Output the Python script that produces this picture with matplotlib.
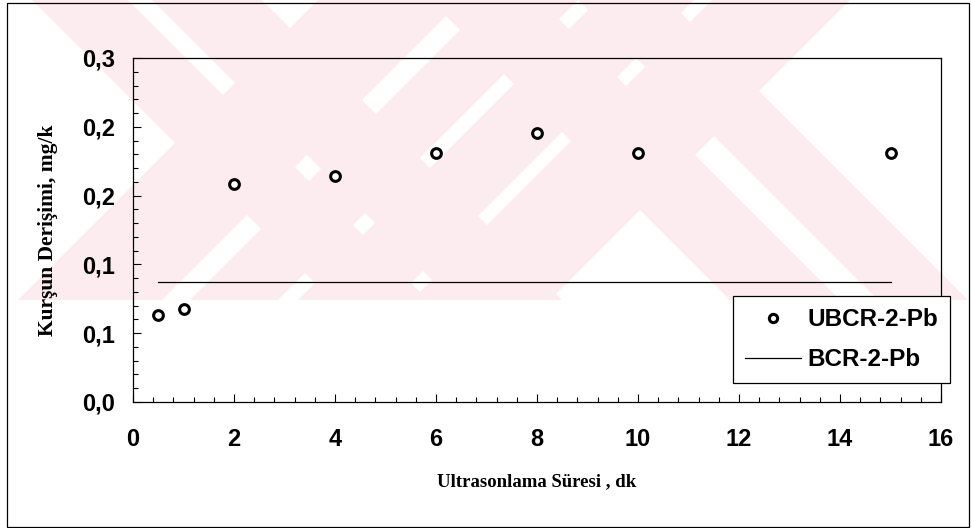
import matplotlib
matplotlib.use("Agg")
import matplotlib.pyplot as plt
from matplotlib.patches import Polygon, Rectangle
from matplotlib.ticker import MultipleLocator, FuncFormatter
import matplotlib.transforms as mtransforms

# data
sure = [0.5, 1, 2, 4, 6, 8, 10, 15]
ubcr_pb = [0.076, 0.081, 0.190, 0.197, 0.217, 0.235, 0.217, 0.217]
bcr_x = [0.5, 15]
bcr_pb = [0.105, 0.105]

W, H = 971, 528
fig = plt.figure(figsize=(W / 100, H / 100), dpi=100)
ax = fig.add_axes([133 / W, 1 - 402 / H, 808 / W, 344 / H])
ax.set_facecolor("none")

# pixel coords (y from top) -> figure
pix = mtransforms.Affine2D().scale(1 / W, -1 / H).translate(0, 1) + fig.transFigure

# pink watermark in the upper part of the page
pink = "#fdecef"
clip = Rectangle((8, 0), 962, 300, transform=pix, facecolor="none", edgecolor="none")
back_bands = [(32, 128), (152, 262), (430, 540), (578, 668)]
fwd_bands = [(318, 462), (490, 578), (598, 694), (712, 850)]
for a, b in back_bands:
    p = Polygon([(a, 0), (b, 0), (b + 300, 300), (a + 300, 300)], closed=True,
                transform=pix, facecolor=pink, edgecolor="none", zorder=-2)
    p.set_clip_path(clip)
    fig.add_artist(p)
for a, b in fwd_bands:
    p = Polygon([(a, 0), (b, 0), (b - 300, 300), (a - 300, 300)], closed=True,
                transform=pix, facecolor=pink, edgecolor="none", zorder=-2)
    p.set_clip_path(clip)
    fig.add_artist(p)

# page frame
fig.add_artist(Rectangle((7, 3), 962, 524, transform=pix, fill=False,
                         edgecolor="black", linewidth=0.9, zorder=-1))

ax.plot(sure, ubcr_pb, linestyle="none", marker="o", markersize=7,
        markerfacecolor="white", markeredgecolor="black", markeredgewidth=2.2,
        label="UBCR-2-Pb", zorder=3)
ax.plot(bcr_x, bcr_pb, color="black", linewidth=0.9, label="BCR-2-Pb")

ax.set_xlim(0, 16)
ax.set_ylim(0, 0.3)
ax.xaxis.set_major_locator(MultipleLocator(2))
ax.xaxis.set_minor_locator(MultipleLocator(0.4))
ax.yaxis.set_major_locator(MultipleLocator(0.06))
ax.yaxis.set_minor_locator(MultipleLocator(0.012))
ax.yaxis.set_major_formatter(FuncFormatter(lambda v, p: f"{v:.1f}".replace(".", ",")))

ax.tick_params(which="both", direction="in", top=False, right=False, width=0.8)
ax.tick_params(which="major", length=5.5)
ax.tick_params(which="minor", length=3.5)
ax.tick_params(axis="x", which="major", pad=19)
ax.tick_params(axis="y", which="major", pad=13)
for lab in ax.get_xticklabels() + ax.get_yticklabels():
    lab.set_fontfamily("Liberation Sans")
    lab.set_fontweight("bold")
    lab.set_fontsize(17)

for s in ax.spines.values():
    s.set_linewidth(0.9)

ax.set_xlabel("Ultrasonlama Süresi , dk", family="Liberation Serif",
              fontweight="bold", fontsize=13.5, labelpad=16)
ax.set_ylabel("Kurşun Derişimi, mg/k", family="Liberation Serif",
              fontweight="bold", fontsize=15.5, labelpad=17)

leg = ax.legend(loc="upper left", bbox_to_anchor=(733 / W, 1 - 296 / H),
                bbox_transform=fig.transFigure, borderaxespad=0, fancybox=False,
                framealpha=1, edgecolor="black", handlelength=2.3,
                handletextpad=0.25, borderpad=0.5, labelspacing=0.7,
                markerscale=0.85,
                prop={"family": "Liberation Sans", "weight": "bold", "size": 17.5})
leg.get_frame().set_linewidth(0.9)

fig.savefig("out.png", dpi=100)
